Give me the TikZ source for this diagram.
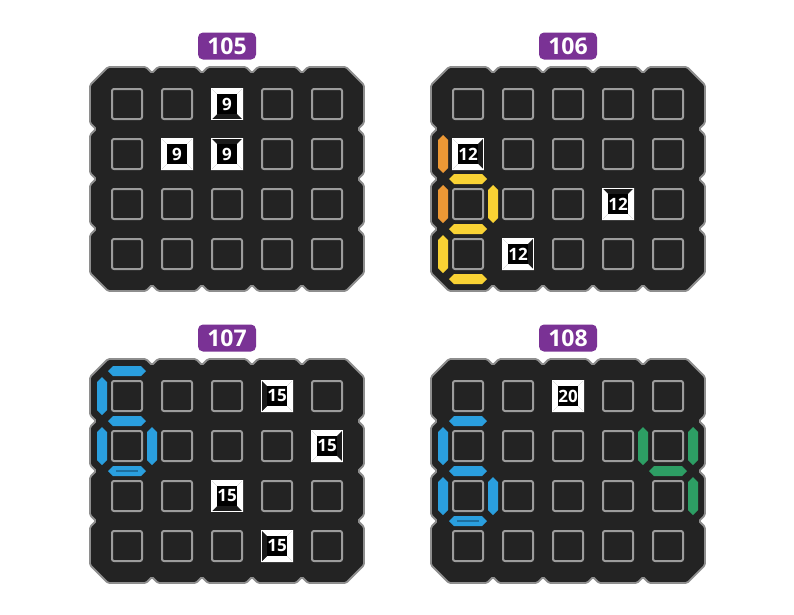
\documentclass[tikz,border=0pt]{standalone}
\usepackage{fontspec}
\setmainfont{Open Sans}
\usetikzlibrary{positioning}

\definecolor{boardblack}{HTML}{232323}
\definecolor{rimgray}{HTML}{8E8E8E}
\definecolor{squaregray}{HTML}{9C9C9C}
\definecolor{bevelgray}{HTML}{1A1A1A}
\definecolor{labelpurple}{HTML}{7A3295}
\definecolor{segorange}{HTML}{EC9835}
\definecolor{segyellow}{HTML}{F9D234}
\definecolor{segblue}{HTML}{2A9FDF}
\definecolor{seggreen}{HTML}{2D9E64}
\definecolor{stripeblue}{HTML}{1D6F9F}

% one board: name, left, top
\newcommand{\puzzleboard}[3]{%
  \filldraw[fill=boardblack, draw=rimgray, line width=1.8pt, rounded corners=1.5pt]
    (#2,#3+18) -- (#2+18,#3)
    foreach \c in {0,...,3}{ -- (#2+56+50*\c,#3) -- (#2+62+50*\c,#3+6) -- (#2+68+50*\c,#3) }
    -- (#2+256,#3) -- (#2+274,#3+18)
    foreach \r in {0,...,2}{ -- (#2+274,#3+56+50*\r) -- (#2+268,#3+62+50*\r) -- (#2+274,#3+68+50*\r) }
    -- (#2+274,#3+206) -- (#2+256,#3+224)
    foreach \c in {0,...,3}{ -- (#2+218-50*\c,#3+224) -- (#2+212-50*\c,#3+218) -- (#2+206-50*\c,#3+224) }
    -- (#2+18,#3+224) -- (#2,#3+206)
    foreach \r in {0,...,2}{ -- (#2,#3+168-50*\r) -- (#2+6,#3+162-50*\r) -- (#2,#3+156-50*\r) }
    -- cycle;
  \foreach \r in {0,...,3}{\foreach \c in {0,...,4}{%
    \node[cellsq] (#1-\r-\c) at (#2+37+50*\c,#3+37+50*\r) {};}}
}
% clue cell: cell, top, right, bottom, left, number
\newcommand{\cluebox}[6]{%
  \begin{scope}[shift={(#1.center)}]
    \fill[boardblack] (-17,-17) rectangle (17,17);
    \fill[#2] (-16,-16) -- (16,-16) -- (10,-10) -- (-10,-10) -- cycle;
    \fill[#3] (16,-16) -- (16,16) -- (10,10) -- (10,-10) -- cycle;
    \fill[#4] (16,16) -- (-16,16) -- (-10,10) -- (10,10) -- cycle;
    \fill[#5] (-16,16) -- (-16,-16) -- (-10,-10) -- (-10,10) -- cycle;
    \draw[white, line width=1.2pt] (-15.4,-15.4) rectangle (15.4,15.4);
    \fill[black] (-10,-10) rectangle (10,10);
  \end{scope}
  \node[cluenum] at (#1) {#6};
}
% segments: colour, cell, offset
\newcommand{\segh}[3]{\fill[#1] (#2.center) ++(-19,#3) -- ++(5,-5) -- ++(28,0) -- ++(5,5) -- ++(-5,5) -- ++(-28,0) -- cycle;}
\newcommand{\segv}[3]{\fill[#1] (#2.center) ++(#3,-19) -- ++(5,5) -- ++(0,28) -- ++(-5,5) -- ++(-5,-5) -- ++(0,-28) -- cycle;}

\begin{document}
\begin{tikzpicture}[x=1pt,y=-1pt,
  cellsq/.style={draw=squaregray, fill=boardblack, line width=2pt, rounded corners=2pt, minimum size=30pt, inner sep=0pt},
  numlabel/.style={fill=labelpurple, text=white, rounded corners=5pt, minimum width=58pt, minimum height=27pt, inner sep=0pt, font=\fontsize{23}{23}\selectfont\bfseries},
  cluenum/.style={text=white, inner sep=0pt, font=\fontsize{17}{17}\selectfont\bfseries},
  stripe/.style={stripeblue, line width=1.5pt}]

  \fill[white] (0,0) rectangle (794,614);

  \node[numlabel] (lab105) at (227,46) {105};
  \node[numlabel] (lab106) at (568,46) {106};
  \node[numlabel] (lab107) at (227,338) {107};
  \node[numlabel] (lab108) at (568,338) {108};

  \puzzleboard{p105}{90}{67}
  \puzzleboard{p106}{431}{67}
  \puzzleboard{p107}{90}{359}
  \puzzleboard{p108}{431}{359}

  % 105
  \cluebox{p105-0-2}{white}{white}{bevelgray}{white}{9}
  \cluebox{p105-1-1}{white}{white}{white}{white}{9}
  \cluebox{p105-1-2}{bevelgray}{white}{white}{white}{9}

  % 106
  \cluebox{p106-1-0}{white}{bevelgray}{white}{white}{12}
  \cluebox{p106-2-3}{bevelgray}{white}{white}{white}{12}
  \cluebox{p106-3-1}{white}{bevelgray}{white}{white}{12}
  \segv{segorange}{p106-1-0}{-25}
  \segv{segorange}{p106-2-0}{-25}
  \segh{segyellow}{p106-2-0}{-25}
  \segv{segyellow}{p106-2-0}{25}
  \segh{segyellow}{p106-2-0}{25}
  \segv{segyellow}{p106-3-0}{-25}
  \segh{segyellow}{p106-3-0}{25}

  % 107
  \cluebox{p107-0-3}{white}{white}{white}{bevelgray}{15}
  \cluebox{p107-1-4}{white}{bevelgray}{white}{white}{15}
  \cluebox{p107-2-2}{white}{white}{bevelgray}{white}{15}
  \cluebox{p107-3-3}{white}{white}{white}{bevelgray}{15}
  \segh{segblue}{p107-0-0}{-25}
  \segv{segblue}{p107-0-0}{-25}
  \segh{segblue}{p107-1-0}{-25}
  \segv{segblue}{p107-1-0}{-25}
  \segv{segblue}{p107-1-0}{25}
  \segh{segblue}{p107-1-0}{25}
  \draw[stripe] (p107-1-0.center) ++(-11,25) -- ++(22,0);

  % 108
  \cluebox{p108-0-2}{white}{white}{white}{white}{20}
  \segh{segblue}{p108-1-0}{-25}
  \segv{segblue}{p108-1-0}{-25}
  \segh{segblue}{p108-2-0}{-25}
  \segv{segblue}{p108-2-0}{-25}
  \segv{segblue}{p108-2-0}{25}
  \segh{segblue}{p108-2-0}{25}
  \draw[stripe] (p108-2-0.center) ++(-11,25) -- ++(22,0);
  \segv{seggreen}{p108-1-4}{-25}
  \segv{seggreen}{p108-1-4}{25}
  \segh{seggreen}{p108-1-4}{25}
  \segv{seggreen}{p108-2-4}{25}
\end{tikzpicture}
\end{document}
